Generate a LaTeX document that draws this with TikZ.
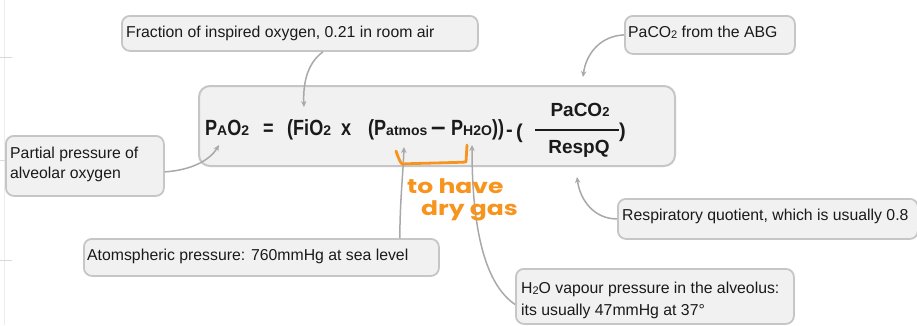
\documentclass[tikz,border=0pt]{standalone}
\usepackage{graphicx}
\usepackage{fontspec}
\setmainfont{Liberation Sans}
\newfontfamily\eqfont[FakeStretch=0.82]{Liberation Sans}
\newfontfamily\handfont[FakeStretch=1.25]{Poppins}
\usetikzlibrary{arrows.meta}

\definecolor{boxfill}{HTML}{F1F1F1}
\definecolor{boxline}{HTML}{C6C6C6}
\definecolor{linkgray}{HTML}{A9A9A9}
\definecolor{inkorange}{HTML}{F7941D}
\definecolor{textdark}{HTML}{1A1A1A}

% subscript helpers for the equation and the labels
\newcommand\eqsub[1]{{\normalfont\bfseries\fontsize{14}{14}\selectfont #1}}
\newcommand\numsub[1]{{\fontsize{13}{13}\selectfont #1}}
\newcommand\lblsub[1]{\raisebox{-1.5pt}{\fontsize{11}{11}\selectfont #1}}

\begin{document}
\begin{tikzpicture}[x=1pt,y=-1pt,
  box/.style={draw=boxline, fill=boxfill, line width=1.8pt, rounded corners=8pt,
              anchor=north west, inner sep=0pt},
  lbl/.style={anchor=base west, inner sep=0pt, text=textdark,
              font=\fontsize{15.8}{20}\selectfont},
  eq/.style={anchor=base west, inner sep=0pt, text=textdark,
             font=\eqfont\fontsize{22}{22}\selectfont\bfseries},
  eqparen/.style={anchor=base west, inner sep=0pt, text=textdark,
             font=\fontsize{20}{20}\selectfont\bfseries},
  eqsmall/.style={anchor=base, inner sep=0pt, text=textdark,
             font=\fontsize{19}{19}\selectfont\bfseries},
  link/.style={draw=linkgray, line width=1.5pt,
               -{Stealth[length=6pt,width=5.5pt]}},
  ink/.style={draw=inkorange, line width=2.8pt, line cap=round, line join=round},
  hand/.style={anchor=base west, inner sep=0pt, text=inkorange,
               font=\handfont\fontsize{20}{20}\selectfont\bfseries}
]
% page
\fill[white] (0,0) rectangle (917,325);
\useasboundingbox (0,0) rectangle (917,325);

% faint window edge on the left
\draw[draw=black!7, line width=0.8pt] (4,0) -- (4,325);
\draw[draw=black!15, line width=0.8pt] (0,57) -- (12,57);
\draw[draw=black!15, line width=0.8pt] (0,160) -- (6,160);
\draw[draw=black!15, line width=0.8pt] (0,260) -- (12,260);

% central formula box
\node[box, rounded corners=11pt, line width=2pt, minimum width=476pt, minimum height=80pt] (main) at (198,85) {};

% annotation boxes
\node[box, minimum width=356pt, minimum height=35pt] (fio) at (121,15) {};
\node[box, minimum width=170pt, minimum height=38pt] (abg) at (624,15) {};
\node[box, minimum width=158pt, minimum height=60pt] (pp) at (5,135) {};
\node[box, minimum width=355pt, minimum height=37pt] (atm) at (83,238) {};
\node[box, minimum width=300pt, minimum height=40pt] (rq) at (617,198) {};
\node[box, minimum width=278pt, minimum height=55pt] (h2o) at (515,268) {};

% annotation texts
\node[lbl] (fiot) at (126,37) {Fraction of inspired oxygen, 0.21 in room air};
\node[lbl] (abgt) at (628,37) {PaCO\lblsub{2} from the ABG};
\node[lbl] (ppt1) at (10,158) {Partial pressure of};
\node[lbl] (ppt2) at (10,178) {alveolar oxygen};
\node[lbl] (atmt) at (87,260) {Atomspheric pressure: 760mmHg at sea level};
\node[lbl] (rqt) at (622,220) {Respiratory quotient, which is usually 0.8};
\node[lbl] (h2ot1) at (521,293) {H\lblsub{2}O vapour pressure in the alveolus:};
\node[lbl] (h2ot2) at (521,315) {its usually 47mmHg at 37°};

% the alveolar gas equation
\node[eq] (ePA) at (205,135) {P\eqsub{A}O\eqsub{2}};
\node[eq] (eEq) at (263,135) {=};
\node[eq] (eFi) at (287,135) {(FiO\eqsub{2}};
\node[eq] (eX) at (341,135) {x};
\node[eq] (eAt) at (368,135) {(P\eqsub{atmos}};
\node[eq] (eMi) at (431,135) {\normalfont\bfseries\fontsize{26}{26}\selectfont –};
\node[eq] (eH) at (451,135) {P\eqsub{H2O}))};
\node[eqparen] (eDa) at (506,136) {-};
\node[eqparen] (eLp) at (516,138) {(};
\node[eqsmall] (eNum) at (580,116) {PaCO\numsub{2}};
\node[eqsmall] (eDen) at (579,153) {RespQ};
\draw[textdark, line width=2pt] (535,130) coordinate (barL) -- (619,130) coordinate (barR);
\node[eqparen] (eRp) at (619,137) {)};

% arrow end points on the formula
\coordinate (tipFi) at (304,107);
\coordinate (tipAbg) at (583,77);
\coordinate (tipPA) at (219,145);
\coordinate (tipAt) at (404,147);
\coordinate (tipH) at (472,145);
\coordinate (tipRq) at (577,177);

% connectors
\draw[link] ([xshift=202pt]fio.south west)
  .. controls (306,64) and (303,86) .. (tipFi);
\draw[link] (abg.west) .. controls (600,36) and (586,54) .. (tipAbg);
\draw[link] ([yshift=-6pt]pp.east) .. controls (192,170) and (210,160) .. (tipPA);
\draw[link] ([xshift=-40pt]atm.north east)
  .. controls (400,200) and (403,175) .. (tipAt);
\draw[link] ([yshift=-8pt]h2o.west) .. controls (482,282) and (472,220) .. (tipH);
\draw[link] (rq.west) .. controls (594,219) and (580,200) .. (tipRq);

% handwritten note in orange
\draw[ink] (396,151) .. controls (398,157) and (400,162) .. (402,164)
  .. controls (425,163) and (445,163) .. (466,162) -- (467,145);
\node[hand] (note1) at (407,193) {to have};
\node[hand] (note2) at (421,215) {dry gas};
\end{tikzpicture}
\end{document}
